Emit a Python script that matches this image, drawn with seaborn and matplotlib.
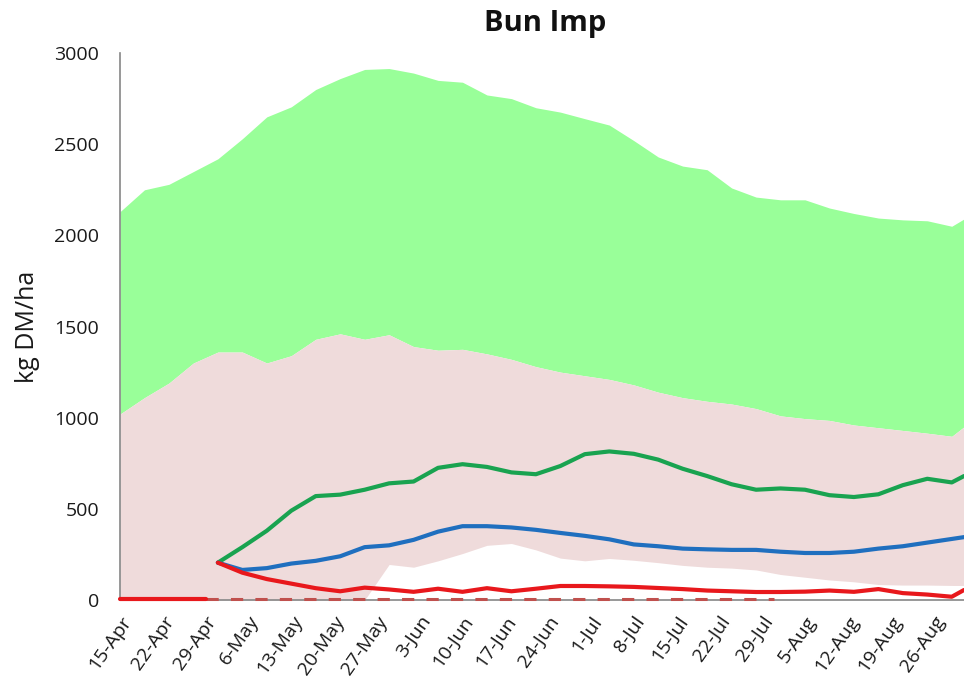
import pandas as pd
import numpy as np
import matplotlib
matplotlib.use("Agg")
import matplotlib.pyplot as plt
import seaborn as sns

# days after 15-Apr
band_days = [0, 4, 8, 12, 16, 20, 24, 28, 32, 36, 40, 44, 48, 52, 56, 60, 64, 68,
             72, 76, 80, 84, 88, 92, 96, 100, 104, 108, 112, 116, 120, 124, 128,
             132, 136, 138]
band_top = [2130, 2250, 2280, 2350, 2420, 2530, 2650, 2705, 2800, 2860, 2910, 2915,
            2890, 2850, 2840, 2770, 2750, 2700, 2676, 2640, 2605, 2520, 2430, 2380,
            2360, 2260, 2210, 2195, 2195, 2150, 2120, 2095, 2085, 2080, 2050, 2090]
band_mid = [1020, 1110, 1190, 1300, 1360, 1360, 1300, 1340, 1430, 1460, 1430, 1455,
            1390, 1370, 1375, 1350, 1320, 1280, 1250, 1230, 1210, 1180, 1140, 1110,
            1090, 1075, 1050, 1010, 995, 985, 960, 945, 930, 915, 898, 950]
band_low = [0, 0, 0, 0, 0, 0, 0, 0, 0, 0, 0, 195, 180, 215, 255, 300, 310, 275,
            230, 215, 228, 218, 205, 190, 180, 175, 165, 140, 125, 110, 100, 85,
            82, 82, 80, 80]

line_days = [16, 20, 24, 28, 32, 36, 40, 44, 48, 52, 56, 60, 64, 68, 72, 76, 80,
             84, 88, 92, 96, 100, 104, 108, 112, 116, 120, 124, 128, 132, 136, 138]
green_line = [205, 290, 380, 490, 570, 578, 605, 640, 650, 725, 745, 730, 700, 690,
              735, 800, 815, 802, 770, 720, 680, 635, 605, 612, 605, 575, 565, 580,
              630, 665, 645, 680]
blue_line = [205, 165, 175, 200, 215, 240, 290, 300, 330, 375, 405, 405, 398, 385,
             368, 352, 333, 305, 295, 282, 278, 275, 275, 265, 258, 258, 265, 282,
             295, 315, 335, 345]
red_line = [205, 150, 115, 90, 65, 48, 68, 58, 45, 62, 45, 65, 48, 62, 77, 77, 75,
            72, 66, 60, 52, 48, 44, 44, 46, 52, 45, 60, 38, 30, 18, 55]

zero_solid_days = [0, 14]
zero_dash_days = [14, 107]

tick_labels = ["15-Apr", "22-Apr", "29-Apr", "6-May", "13-May", "20-May", "27-May",
               "3-Jun", "10-Jun", "17-Jun", "24-Jun", "1-Jul", "8-Jul", "15-Jul",
               "22-Jul", "29-Jul", "5-Aug", "12-Aug", "19-Aug", "26-Aug"]

start = pd.Timestamp("2013-04-15")
to_date = lambda d: start + pd.to_timedelta(d, unit="D")

sns.set_theme(style="white")
plt.rcParams['font.family'] = ['Open Sans', 'DejaVu Sans']

fig = plt.figure(figsize=(9.64, 6.8), dpi=100)
ax = fig.add_axes([0.1245, 0.1176, 0.8755, 0.8044])

bd = to_date(band_days)
ax.fill_between(bd, band_mid, band_top, color="#99ff99", linewidth=0)
ax.fill_between(bd, band_low, band_mid, color="#efdbdb", linewidth=0)

lines = pd.DataFrame({
    "date": list(to_date(line_days)) * 3,
    "val": green_line + blue_line + red_line,
    "s": ["green"] * len(line_days) + ["blue"] * len(line_days) + ["red"] * len(line_days),
})
sns.lineplot(data=lines, x="date", y="val", hue="s",
             palette={"green": "#19a350", "blue": "#1f6fbf", "red": "#e8181c"},
             linewidth=3, legend=False, ax=ax)

# zero lines sit on the axis, keep them unclipped so they show
ax.plot(to_date(zero_dash_days), [6, 6], color="#c0504d", lw=2.2, dashes=(4, 4),
        clip_on=False, zorder=5)
ax.plot(to_date(zero_solid_days), [6, 6], color="#e8181c", lw=3, clip_on=False,
        zorder=5)

ax.set_xlim(to_date(0), to_date(138))
ax.set_ylim(0, 3000)
ax.set_yticks(range(0, 3001, 500))
ax.set_xticks(to_date(list(range(0, 134, 7))))
ax.set_xticklabels(tick_labels, rotation=55, ha="right", rotation_mode="anchor")

for s in ["top", "right"]:
    ax.spines[s].set_visible(False)
for s in ["left", "bottom"]:
    ax.spines[s].set_color("#868686")
    ax.spines[s].set_linewidth(1.2)
ax.tick_params(axis="both", direction="out", length=5, width=1.2, color="#868686",
               labelsize=14, labelcolor="#1a1a1a", pad=4)
ax.tick_params(axis="y", pad=10)

ax.set_xlabel("")
ax.set_ylabel("kg DM/ha", fontsize=18, color="#1a1a1a", labelpad=10)
fig.text(0.566, 0.965, "Bun Imp", ha="center", va="center", fontsize=21,
         fontweight="bold", color="#111111")

fig.savefig("out.png", dpi=100, facecolor="white")
